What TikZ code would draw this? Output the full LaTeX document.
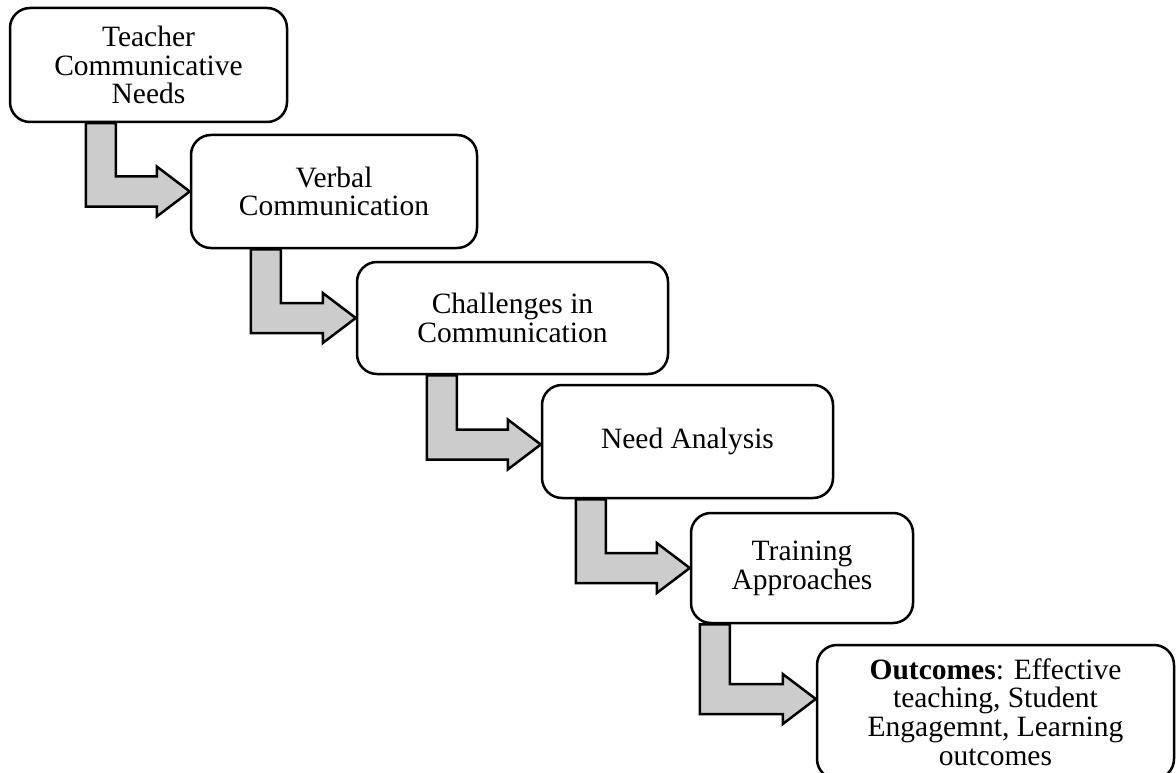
\documentclass[tikz,border=0pt]{standalone}
\usepackage{fontspec}
\setmainfont{Liberation Serif}
\usetikzlibrary{positioning}

\tikzset{
  stage/.style={draw=black, line width=2.5pt, rounded corners=20pt, fill=white,
    align=center, inner sep=0pt, font=\fontsize{29.5}{28.8}\selectfont},
  larrow/.style={draw=black, fill=black!20, line width=2.5pt, line join=miter}
}

\begin{document}
\begin{tikzpicture}[x=1pt, y=-1pt]
    \useasboundingbox (0,0) rectangle (1176,773);
    \clip (0,0) rectangle (1176,773);
    \node[stage, minimum width=277pt, minimum height=114pt] (teacher) at (148.5,65)
        {Teacher\\Communicative\\Needs};
    \node[stage, minimum width=286pt, minimum height=113pt] (verbal) at (334,191.5)
        {Verbal\\Communication};
    \node[stage, minimum width=311pt, minimum height=112pt] (challenges) at (512.5,318)
        {Challenges in\\Communication};
    \node[stage, minimum width=291pt, minimum height=113pt] (analysis) at (687.5,441.5)
        {Need Analysis};
    \node[stage, minimum width=222pt, minimum height=110pt] (training) at (802,568)
        {Training\\Approaches};
    \node[stage, minimum width=357pt, minimum height=134pt] (outcomes) at (995.5,712)
        {\textbf{Outcomes}: Effective\\teaching, Student\\Engagemnt, Learning\\outcomes};
    \foreach \a/\b/\dx/\dy in {teacher/verbal/77/0, verbal/challenges/61/0,
        challenges/analysis/71/-3, analysis/training/35/0, training/outcomes/10/13}
    {
        \coordinate (s) at ([xshift=\dx pt]\a.south west);
        \coordinate (t) at ([yshift=\dy pt]\b.west);
        \coordinate (c) at (s |- t);
        \filldraw[larrow] (s) -- ([yshift=-15pt]c)
            -- ([xshift=-33pt, yshift=-15pt]t) -- ([xshift=-33pt, yshift=-25pt]t)
            -- (t) -- ([xshift=-33pt, yshift=25pt]t) -- ([xshift=-33pt, yshift=15pt]t)
            -- ([xshift=30pt, yshift=15pt]c) -- ([xshift=30pt]s) -- cycle;
    }
\end{tikzpicture}
\end{document}
